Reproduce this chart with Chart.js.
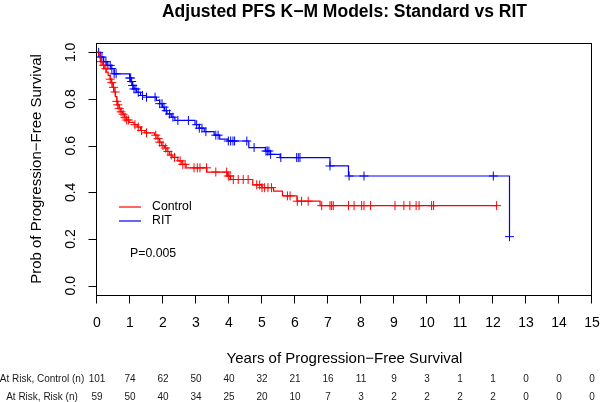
<!DOCTYPE html>
<html>
<head>
<meta charset="utf-8">
<script src="https://cdn.jsdelivr.net/npm/chart.js@4"></script>
<style>
  html, body { margin: 0; padding: 0; background: #fff; }
  canvas { display: block; }
</style>
</head>
<body>
<canvas id="km" width="600" height="402"></canvas>
<script>
// KM step data (years, survival after drop)
const ctrlTime = [0.05, 0.09, 0.12, 0.16, 0.22, 0.28, 0.34, 0.40, 0.44, 0.48, 0.52, 0.56, 0.60, 0.63, 0.67, 0.72, 0.78, 0.84, 0.90, 0.97,
  1.12, 1.22, 1.32, 1.45, 1.75, 1.82, 1.90, 1.96, 2.05, 2.12, 2.20, 2.28, 2.45, 2.57, 2.70, 3.33, 3.95, 4.05, 4.72, 5.00, 5.35, 5.62, 6.06, 6.76];
const ctrlSurv = [0.99, 0.975, 0.96, 0.945, 0.93, 0.915, 0.90, 0.885, 0.87, 0.85, 0.83, 0.81, 0.79, 0.775, 0.76, 0.745, 0.735, 0.72, 0.71, 0.70,
  0.69, 0.68, 0.665, 0.655, 0.645, 0.63, 0.615, 0.60, 0.59, 0.575, 0.56, 0.55, 0.535, 0.52, 0.505, 0.487, 0.47, 0.455, 0.432, 0.42, 0.405, 0.385, 0.362, 0.343];
const ctrlCensor = [0.12, 0.20, 0.27, 0.40, 0.45, 0.50, 0.55, 0.60, 0.63, 0.67, 0.73, 0.79, 0.85, 0.90, 0.95, 1.15, 1.25, 1.35, 1.50, 1.78, 1.85, 1.90,
  2.00, 2.08, 2.15, 2.25, 2.35, 2.52, 2.60, 2.67, 2.94, 3.04, 3.12, 3.32, 3.60, 3.93, 3.98, 4.03, 4.13, 4.28, 4.43, 4.58, 4.84, 4.93, 5.00, 5.08, 5.18,
  5.29, 5.77, 5.85, 6.07, 6.20, 6.40, 6.81, 7.06, 7.11, 7.16, 7.62, 7.79, 8.02, 8.09, 8.29, 9.03, 9.30, 9.48, 9.67, 9.76, 10.14, 10.20, 12.11];

const ritTime = [0.10, 0.20, 0.30, 0.42, 0.52, 0.99, 1.03, 1.08, 1.12, 1.20, 1.32, 1.50, 1.80, 1.90, 1.98, 2.05, 2.12, 2.25, 2.36,
  2.97, 3.10, 3.25, 3.55, 3.72, 3.97, 4.60, 5.10, 5.25, 5.55, 7.06, 7.62, 12.50];
const ritSurv = [0.98, 0.96, 0.944, 0.93, 0.908, 0.89, 0.875, 0.858, 0.843, 0.829, 0.815, 0.808, 0.794, 0.78, 0.765, 0.75, 0.736, 0.722, 0.708,
  0.69, 0.675, 0.66, 0.645, 0.628, 0.62, 0.592, 0.577, 0.563, 0.549, 0.513, 0.47, 0.21];
const ritCensor = [0.05, 0.10, 0.15, 0.20, 0.27, 0.33, 0.40, 0.45, 0.52, 0.58, 0.99, 1.02, 1.05, 1.08, 1.12, 1.18, 1.25, 1.38, 1.50, 1.76, 1.90,
  1.97, 2.03, 2.10, 2.20, 2.30, 2.45, 2.77, 3.02, 3.10, 3.18, 3.30, 3.60, 3.67, 3.98, 4.05, 4.12, 4.17, 4.54, 4.76, 5.12, 5.16, 5.21, 5.26, 5.57,
  6.05, 6.10, 6.15, 7.06, 7.64, 8.09, 12.01, 12.50];

const xTicks = [0, 1, 2, 3, 4, 5, 6, 7, 8, 9, 10, 11, 12, 13, 14, 15];
const yTicks = [0, 0.2, 0.4, 0.6, 0.8, 1.0];
const riskCtrl = [101, 74, 62, 50, 40, 32, 21, 16, 11, 9, 3, 1, 1, 0, 0, 0];
const riskRit = [59, 50, 40, 34, 25, 20, 10, 7, 3, 2, 2, 2, 2, 0, 0, 0];

const FONT = "'Liberation Sans', Arial, Helvetica, sans-serif";

// survival value of a step curve at time t
function survAt(times, surv, t) {
  let s = 1;
  for (let i = 0; i < times.length; i++) {
    if (times[i] <= t) s = surv[i];
  }
  return s;
}

function stepLine(times, surv, endTime) {
  const pts = [{ x: 0, y: 1 }];
  times.forEach((t, i) => pts.push({ x: t, y: surv[i] }));
  const last = pts[pts.length - 1];
  if (endTime > last.x) pts.push({ x: endTime, y: last.y });
  return pts;
}

function marks(times, surv, censor) {
  return censor.map(t => ({ x: t, y: survAt(times, surv, t) }));
}

const RED = '#ff0000';
const BLUE = '#0000ff';

const decorations = {
  id: 'decorations',
  afterDraw(chart) {
    const { ctx, chartArea: a } = chart;
    const x = chart.scales.x, y = chart.scales.y;
    const L = Math.round(a.left) - 0.5, R = Math.round(a.right) - 0.5;
    const T = Math.round(a.top) + 0.5, B = Math.round(a.bottom) + 0.5;
    ctx.save();
    ctx.strokeStyle = '#000';
    ctx.lineWidth = 1;
    ctx.strokeRect(L, T, R - L, B - T);

    // x axis ticks + labels
    ctx.fillStyle = '#000';
    ctx.font = '14px ' + FONT;
    ctx.textAlign = 'center';
    ctx.textBaseline = 'middle';
    ctx.beginPath();
    xTicks.forEach(v => {
      const px = Math.round(x.getPixelForValue(v)) - 0.5;
      ctx.moveTo(px, B);
      ctx.lineTo(px, B + 8);
    });
    ctx.stroke();
    xTicks.forEach(v => ctx.fillText(String(v), x.getPixelForValue(v), 323));

    // y axis ticks + rotated labels
    ctx.beginPath();
    yTicks.forEach(v => {
      const py = Math.round(y.getPixelForValue(v)) + 0.5;
      ctx.moveTo(L - 8, py);
      ctx.lineTo(L, py);
    });
    ctx.stroke();
    yTicks.forEach(v => {
      ctx.save();
      ctx.translate(71, y.getPixelForValue(v));
      ctx.rotate(-Math.PI / 2);
      ctx.fillText(v.toFixed(1), 0, 0);
      ctx.restore();
    });

    // axis titles
    ctx.font = '15px ' + FONT;
    ctx.save();
    ctx.translate(37, (a.top + a.bottom) / 2);
    ctx.rotate(-Math.PI / 2);
    ctx.fillText('Prob of Progression\u2212Free Survival', 0, 0);
    ctx.restore();
    const cx = (a.left + a.right) / 2;
    ctx.fillText('Years of Progression\u2212Free Survival', cx, 359);

    // main title
    ctx.font = 'bold 17.5px ' + FONT;
    ctx.fillText('Adjusted PFS K\u2212M Models: Standard vs RIT', cx, 12);

    // legend
    ctx.font = '12.3px ' + FONT;
    ctx.textAlign = 'left';
    ctx.lineWidth = 1.2;
    [['Control', RED, 207], ['RIT', BLUE, 221]].forEach(([label, col, ly]) => {
      ctx.strokeStyle = col;
      ctx.beginPath();
      ctx.moveTo(119, ly);
      ctx.lineTo(141, ly);
      ctx.stroke();
      ctx.fillText(label, 152, ly);
    });
    ctx.fillText('P=0.005', 130, 254);

    // numbers at risk
    ctx.font = '10px ' + FONT;
    ctx.fillStyle = '#1a1a1a';
    ctx.textAlign = 'center';
    ctx.fillText('At Risk, Control (n)', 42, 379);
    ctx.fillText('At Risk, Risk (n)', 42, 397);
    xTicks.forEach((v, i) => {
      const px = x.getPixelForValue(v);
      ctx.fillText(String(riskCtrl[i]), px, 379);
      ctx.fillText(String(riskRit[i]), px, 397);
    });
    ctx.restore();
  }
};

new Chart(document.getElementById('km'), {
  type: 'scatter',
  data: {
    datasets: [
      {
        type: 'line',
        data: stepLine(ctrlTime, ctrlSurv, ctrlCensor[ctrlCensor.length - 1]),
        borderColor: RED,
        borderWidth: 1.2,
        stepped: true,
        pointRadius: 0,
        fill: false
      },
      {
        type: 'line',
        data: stepLine(ritTime, ritSurv, ritCensor[ritCensor.length - 1]),
        borderColor: BLUE,
        borderWidth: 1.2,
        stepped: true,
        pointRadius: 0,
        fill: false
      },
      {
        data: marks(ctrlTime, ctrlSurv, ctrlCensor),
        pointStyle: 'cross',
        pointRadius: 4.5,
        borderColor: RED,
        borderWidth: 1,
        backgroundColor: RED
      },
      {
        data: marks(ritTime, ritSurv, ritCensor),
        pointStyle: 'cross',
        pointRadius: 4.5,
        borderColor: BLUE,
        borderWidth: 1,
        backgroundColor: BLUE
      }
    ]
  },
  options: {
    responsive: false,
    animation: false,
    devicePixelRatio: 1,
    layout: { padding: { left: 97, right: 8, top: 43, bottom: 107 } },
    plugins: { legend: { display: false }, tooltip: { enabled: false } },
    scales: {
      x: { type: 'linear', min: 0, max: 15, display: false },
      y: { type: 'linear', min: -0.04, max: 1.04, display: false }
    }
  },
  plugins: [decorations]
});
</script>
</body>
</html>
